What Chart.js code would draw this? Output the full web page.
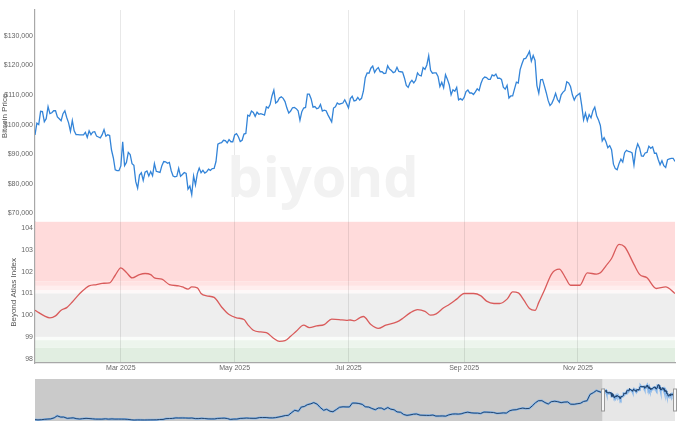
<!DOCTYPE html>
<html><head><meta charset="utf-8">
<script src="https://cdn.jsdelivr.net/npm/chart.js@4.4.1/dist/chart.umd.min.js"></script>
<style>
html,body{margin:0;padding:0;background:#fff;width:680px;height:431px;overflow:hidden}
#main{position:absolute;left:0;top:0}
#nav{position:absolute;left:0;top:379px}
</style></head><body>
<canvas id="main" width="680" height="376"></canvas>
<canvas id="nav" width="680" height="42"></canvas>
<script>
// ---------- DATA ----------
const priceStartDate = '2025-01-14';
// Bitcoin daily price (thousand USD), Jan 14 2025 -> Dec 23 2025
const priceValues = [
 96.5,100.5,100.0,104.5,104.4,101.0,102.0,106.1,103.7,104.0,104.7,104.7,102.6,102.0,101.3,103.7,104.7,102.4,
 100.6,97.7,101.4,97.9,96.6,96.6,96.5,96.5,96.5,97.4,95.7,97.9,96.6,97.5,97.6,96.1,95.8,95.5,96.6,98.3,96.1,96.6,96.3,91.4,88.7,84.7,84.4,84.4,
 86.0,94.2,86.1,87.2,90.6,89.9,86.8,86.2,80.7,78.5,82.9,83.7,81.1,83.9,84.3,82.6,84.1,82.7,86.8,84.2,84.0,83.8,86.1,87.5,87.4,86.9,87.2,84.4,82.6,82.3,82.5,
 85.2,82.5,83.1,83.8,83.5,78.2,79.2,76.3,82.6,79.6,83.4,85.3,83.7,84.5,83.6,84.0,84.9,84.5,85.1,85.2,87.5,93.4,93.7,93.9,94.7,94.6,93.8,94.9,94.2,94.2,
 96.5,96.9,95.9,94.3,94.7,96.8,97.0,103.2,102.9,104.6,104.1,102.8,104.2,103.5,103.7,103.5,103.2,106.0,105.6,106.8,109.7,111.7,107.3,107.8,109.0,109.4,108.9,107.8,105.6,103.9,104.6,
 105.7,105.8,105.4,104.7,101.5,104.4,105.6,105.8,110.3,110.3,108.7,105.9,106.1,105.4,105.6,106.8,104.6,104.9,104.7,103.3,102.1,100.9,105.6,106.0,107.3,106.9,107.1,107.3,108.4,107.1,
 105.7,108.8,109.6,108.0,108.2,109.2,108.3,108.9,111.3,115.9,117.5,117.4,119.1,119.8,117.7,118.7,119.3,117.9,117.9,117.3,117.4,119.9,118.8,118.3,117.6,117.9,119.4,118.0,117.9,117.8,115.8,
 113.3,112.6,114.2,115.0,114.1,115.0,117.5,116.7,116.5,119.3,118.7,120.2,123.3,118.4,117.4,117.5,117.5,116.3,112.9,114.3,112.5,116.9,115.4,113.5,110.1,111.8,111.3,112.6,108.4,108.8,108.3,
 109.2,111.2,111.7,110.7,110.7,110.2,111.1,112.1,111.5,113.9,115.5,116.1,115.9,115.3,115.3,116.8,116.5,117.1,115.7,115.7,115.3,112.7,112.0,113.3,109.0,109.7,109.7,112.1,114.4,114.1,
 118.6,120.6,122.3,122.4,123.5,124.8,121.5,123.4,121.7,113.2,110.6,115.2,115.3,113.1,110.8,108.2,106.5,107.2,108.7,110.6,108.5,107.6,110.1,111.0,111.6,114.5,114.1,112.9,110.1,108.3,109.6,
 110.1,110.6,106.5,101.6,103.9,101.3,103.4,102.3,104.7,105.9,103.0,101.6,99.7,94.5,95.6,94.2,92.2,92.9,91.5,86.6,85.1,84.7,86.8,88.3,87.3,90.5,91.3,90.9,90.8,90.4,
 86.3,91.3,93.5,92.1,89.4,89.3,90.4,90.6,92.7,92.0,92.5,90.3,90.3,88.2,86.4,87.8,86.1,85.5,88.1,88.4,88.6,88.6,87.5
];
// Beyond Atlas Index: day of 2025 (0 = Jan 1) and value
const atlasDays = [13,15,18,21,24,27,30,33,37,40,42,46,49,53,56,59,62,65,69,72,75,77,81,85,90,92,95,97,100,102,105,109,113,117,121,125,127,130,134,137,141,144,147,150,153,157,160,164,168,172,176,180,182,184,187,189,193,197,201,207,210,214,218,222,225,228,232,235,239,243,248,252,255,259,262,266,269,272,275,278,281,283,286,290,294,297,300,305,309,314,316,319,322,326,329,334,337,341,346,351,356];
const atlasValues = [100.23,100.12,99.97,99.88,99.97,100.23,100.35,100.61,101.0,101.23,101.35,101.41,101.47,101.49,101.84,102.18,101.97,101.72,101.87,101.92,101.87,101.72,101.66,101.41,101.35,101.30,101.20,101.30,101.26,101.0,100.89,100.82,100.38,100.03,99.88,99.80,99.57,99.31,99.23,99.20,98.93,98.80,98.83,99.03,99.26,99.54,99.43,99.51,99.57,99.82,99.80,99.76,99.78,99.74,99.88,99.94,99.57,99.39,99.54,99.69,99.85,100.11,100.26,100.18,100.0,100.06,100.34,100.49,100.74,101.0,101.0,100.89,100.65,100.54,100.54,100.74,101.07,101.03,100.69,100.31,100.22,100.59,101.15,101.92,102.12,101.77,101.38,101.38,101.95,101.89,101.95,102.27,102.61,103.26,103.15,102.34,101.88,101.72,101.23,101.30,101.0];
// Navigator history: two values per month (1st, 15th), thousand USD, from Sep 2017
const navHistStart = '2017-09-01';
const navHistValues = [
 4.7,3.7, 4.4,5.7, 6.7,7.3, 10.9,17.7,
 13.4,13.6, 9.1,10.0, 10.9,8.2, 6.8,8.0, 9.1,8.5, 7.5,6.5, 6.4,6.3, 7.6,6.3, 7.2,6.5, 6.6,6.5, 6.35,5.6, 4.2,3.25,
 3.8,3.6, 3.45,3.6, 3.8,3.9, 4.15,5.1, 5.35,8.0, 8.55,8.8, 10.6,10.3, 10.4,10.3, 9.8,10.3, 8.3,8.3, 9.2,8.5, 7.4,7.1,
 7.2,8.8, 9.4,9.9, 8.5,5.4, 6.6,6.65, 8.8,9.3, 10.2,9.4, 9.2,9.2, 11.8,11.9, 11.9,10.8, 10.6,11.5, 13.8,15.9, 18.8,19.4,
 29.4,36.8, 33.5,48.0, 49.6,55.8, 59.0,63.1, 57.8,46.8, 36.7,40.2, 33.5,31.8, 39.9,47.0, 48.8,48.2, 48.1,61.6, 61.3,60.0, 57.0,48.9,
 47.7,43.1, 38.7,44.5, 44.4,39.3, 46.3,40.5, 38.5,31.3, 29.8,22.5, 19.3,20.8, 23.3,24.1, 20.1,19.7, 19.3,19.1, 20.5,16.9, 17.0,17.4,
 16.6,20.9, 23.7,24.3, 23.6,24.7, 28.4,30.3, 28.1,27.2, 27.0,25.6, 30.6,30.3, 29.7,29.2, 25.9,26.6, 27.9,27.1, 35.4,37.9, 38.7,41.9,
 44.2,42.5, 43.1,51.8, 62.4,69.5, 69.7,63.4, 58.3,66.2, 67.8,66.2, 62.9,64.8, 65.4,57.6, 57.3,59.1, 60.8,66.9, 69.5,91.0, 97.2,104.4
];
const priceTicks = [70,80,90,100,110,120,130];
const atlasTicks = [98,99,100,101,102,103,104];
const tickDates = ['2025-03-01','2025-05-01','2025-07-01','2025-09-01','2025-11-01'];
const tickLabels = ['Mar 2025','May 2025','Jul 2025','Sep 2025','Nov 2025'];
// Zones of the index pane
const bandFrom   = [101.55, 101.35, 101.15, 101.0, 99.0, 98.85, 98.5, 90];
const bandTo     = [110, 101.55, 101.35, 101.15, 101.0, 99.0, 98.85, 98.5];
const bandColors = ['#ffdbdb','#ffe3e3','#ffeeee','#fdf8f8','#eeeeee','#fafcfa','#edf5ed','#e1eee1'];
const watermarkText = 'biyond';

// ---------- BUILD ----------
const DAY = 86400000, BASE = Date.UTC(2025,0,1);
function dayOf(s){const p=s.split('-').map(Number);return (Date.UTC(p[0],p[1]-1,p[2])-BASE)/DAY;}
const startDay = dayOf(priceStartDate);
const priceData = priceValues.map((v,i)=>({x:startDay+i,y:v}));
const atlasData = atlasDays.map((d,i)=>({x:d,y:atlasValues[i]}));
const tickDays = tickDates.map(dayOf);
const xMin = startDay, xMax = startDay + priceValues.length - 1;
const hs = navHistStart.split('-').map(Number);
const navHistData = navHistValues.map((v,i)=>({x:(Date.UTC(hs[0], hs[1]-1+Math.floor(i/2), i%2?15:1)-BASE)/DAY, y:v}));
const navData = navHistData.concat(priceData);
const navMin = navHistData[0].x;

const tickFont = {family:'"Liberation Sans", Arial, sans-serif', size:7};
const titleFont = {family:'"Liberation Sans", Arial, sans-serif', size:8};

const bandsPlugin = {
  id:'bands',
  beforeDraw(chart){
    const {ctx, chartArea:a} = chart; const s = chart.scales.yAtlas;
    ctx.save();
    bandFrom.forEach((f,i)=>{
      const y1 = s.getPixelForValue(Math.min(bandTo[i], s.max));
      const y2 = s.getPixelForValue(Math.max(f, s.min));
      ctx.fillStyle = bandColors[i];
      ctx.fillRect(a.left, y1, a.right-a.left, y2-y1);
    });
    ctx.restore();
  }
};
const watermarkPlugin = {
  id:'wm',
  beforeDatasetsDraw(chart){
    const s = chart.scales.yPrice, a = chart.chartArea, ctx = chart.ctx;
    ctx.save();
    ctx.font = 'bold 56px "Open Sans", sans-serif';
    ctx.fillStyle = '#f2f2f2';
    ctx.textAlign = 'center'; ctx.textBaseline = 'alphabetic';
    ctx.fillText(watermarkText, a.left + (a.right-a.left)*0.45, s.top + (s.bottom-s.top)*0.884);
    ctx.restore();
  }
};

new Chart(document.getElementById('main'), {
  type:'line',
  data:{datasets:[
    {data:priceData, yAxisID:'yPrice', borderColor:'#3384d8', borderWidth:1.3, pointRadius:0, tension:0, fill:false},
    {data:atlasData, yAxisID:'yAtlas', borderColor:'#d95b5b', borderWidth:1.3, pointRadius:0, cubicInterpolationMode:'monotone', fill:false}
  ]},
  options:{
    responsive:false, animation:false, events:[],
    layout:{padding:{top:10,right:5,left:0,bottom:0}},
    plugins:{legend:{display:false}, tooltip:{enabled:false}},
    scales:{
      x:{type:'linear', position:'bottom', min:xMin, max:xMax,
        afterBuildTicks:s=>{s.ticks = tickDays.map(v=>({value:v}));},
        afterFit:s=>{s.height = 13;},
        ticks:{callback:(v,i)=>tickLabels[i], font:tickFont, color:'#666', padding:1, maxRotation:0, autoSkip:false},
        grid:{color:'rgba(0,0,0,0.09)', lineWidth:1, drawTicks:false},
        border:{display:true, color:'#a8a8a8', width:1.2}},
      yPrice:{type:'linear', position:'left', stack:'panes', stackWeight:3, weight:2, min:67.1, max:138.8,
        afterBuildTicks:s=>{s.ticks = priceTicks.map(v=>({value:v}));},
        afterFit:s=>{s.width = 35;},
        ticks:{callback:v=>'$'+(v*1000).toLocaleString('en-US'), font:tickFont, color:'#666', padding:2},
        grid:{display:false, drawTicks:false},
        border:{display:true, color:'#a8a8a8', width:1.2},
        title:{display:true, text:'Bitcoin Price', font:titleFont, color:'#555', padding:{top:0,bottom:0}}},
      yAtlas:{type:'linear', position:'left', stack:'panes', stackWeight:2, weight:1, min:97.8, max:104.3,
        afterBuildTicks:s=>{s.ticks = atlasTicks.map(v=>({value:v}));},
        afterFit:s=>{s.width = 35;},
        ticks:{font:tickFont, color:'#666', padding:2},
        grid:{display:false, drawTicks:false},
        border:{display:true, color:'#a8a8a8', width:1.2},
        title:{display:true, text:'Beyond Atlas Index', font:titleFont, color:'#555', padding:{top:9,bottom:0}}}
    }
  },
  plugins:[bandsPlugin, watermarkPlugin]
});

const navPlugin = {
  id:'navmask',
  beforeDraw(chart){
    const {ctx, chartArea:a} = chart; const x = chart.scales.x;
    const xs = x.getPixelForValue(xMin), xe = x.getPixelForValue(xMax);
    ctx.save();
    ctx.fillStyle = '#cacaca'; ctx.fillRect(a.left, a.top, xs-a.left, a.bottom-a.top);
    ctx.fillStyle = '#e7e7e7'; ctx.fillRect(xs, a.top, xe-xs, a.bottom-a.top);
    ctx.restore();
  },
  afterDraw(chart){
    const {ctx, chartArea:a} = chart; const x = chart.scales.x;
    const mid = (a.top+a.bottom)/2;
    ctx.save();
    [xMin, xMax].forEach(v=>{
      const px = Math.round(x.getPixelForValue(v));
      ctx.fillStyle = '#f8f8f8'; ctx.strokeStyle = '#999'; ctx.lineWidth = 1;
      ctx.fillRect(px-1.5, mid-11, 3, 22);
      ctx.strokeRect(px-1.5, mid-11, 3, 22);
    });
    ctx.restore();
  }
};

new Chart(document.getElementById('nav'), {
  type:'line',
  data:{datasets:[
    {data:navData, borderColor:'#22456f', borderWidth:1, pointRadius:0, tension:0, fill:false, order:0},
    {data:navData, borderColor:'#86b6ea', borderWidth:2.2, pointRadius:0, tension:0, fill:false, order:1}
  ]},
  options:{
    responsive:false, animation:false, events:[],
    layout:{padding:{top:0,right:5,left:35,bottom:0}},
    plugins:{legend:{display:false}, tooltip:{enabled:false}},
    scales:{
      x:{type:'linear', display:false, min:navMin, max:xMax},
      y:{type:'linear', display:false, min:0, max:144}
    }
  },
  plugins:[navPlugin]
});
</script>
</body></html>
